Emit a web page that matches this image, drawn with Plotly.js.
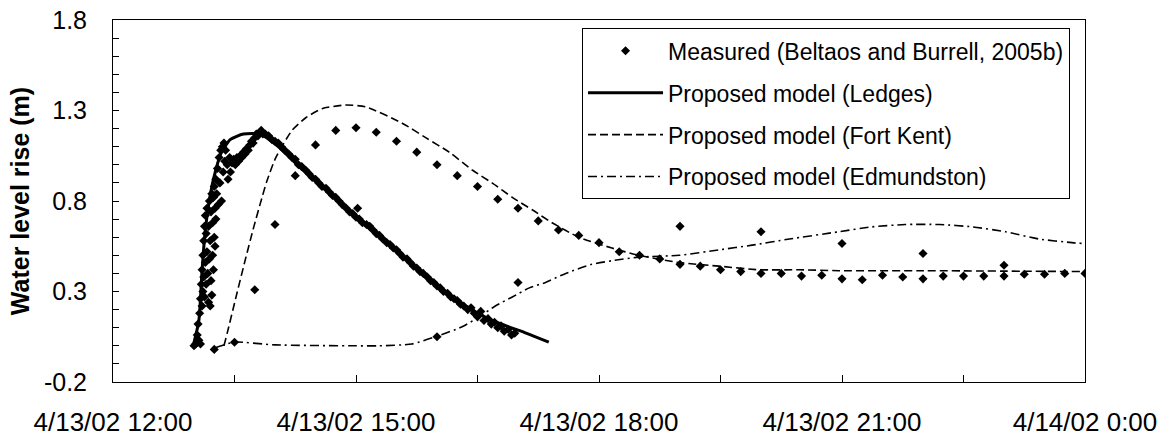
<!DOCTYPE html>
<html>
<head>
<meta charset="utf-8">
<script src="https://cdn.plot.ly/plotly-3.0.1.min.js"></script>
<style>
  html, body { margin: 0; padding: 0; background: #fff; }
  #chart { width: 1166px; height: 439px; }
</style>
</head>
<body>
<div id="chart"></div>
<script>
// Times are hours after 4/13/02 12:00; values are water level rise in metres.

// Measured, Ledges (logger record)
const measLedgesHours = [
  1.00,1.02,1.04,1.05,1.06,1.07,1.08,1.08,1.09,1.10,1.10,1.11,1.11,1.12,1.12,1.13,1.13,1.14,1.14,1.15,
  1.15,1.16,1.16,1.17,1.18,1.18,1.19,1.19,1.20,1.20,1.21,1.21,1.22,1.22,1.23,1.23,1.24,1.24,1.25,1.25,
  1.26,1.26,1.27,1.27,1.28,1.29,1.30,1.31,1.32,1.33,1.34,1.35,1.36,1.37,1.38,1.39,1.41,1.42,1.44,1.45,
  1.47,1.49,1.51,1.53,1.55,1.57,1.59,1.61,1.63,1.65,1.67,1.69,1.71,1.73,1.75,1.77,1.79,1.81,1.83,1.85,
  1.88,1.92,1.96,2.00,2.04,2.08,2.12,2.17,2.21,2.25,2.29,2.33,2.38,2.42,2.46,2.50,2.54,2.58,2.63,2.67,
  2.71,2.75,2.79,2.83,2.88,2.92,2.96,3.00,3.02,3.04,3.08,3.13,3.17,3.21,3.25,3.29,3.33,3.38,3.42,3.46,
  3.50,3.54,3.58,3.63,3.67,3.71,3.75,3.79,3.83,3.88,3.92,3.96,4.00,4.04,4.08,4.13,4.17,4.21,4.25,4.29,
  4.33,4.38,4.42,4.46,4.50,4.54,4.58,4.63,4.67,4.71,4.75,4.79,4.83,4.88,4.92,4.96
];
const measLedgesRise = [
  0.00,0.01,0.06,0.12,0.03,0.18,0.01,0.26,0.34,0.42,0.22,0.50,0.30,0.58,0.38,0.66,0.27,0.46,0.72,0.34,
  0.62,0.76,0.52,0.40,0.24,0.66,0.48,0.80,0.22,0.58,0.36,0.74,0.28,0.84,0.50,0.68,0.42,0.82,0.60,0.88,
  0.55,0.76,0.70,0.92,0.84,0.98,0.78,1.04,0.90,1.08,0.80,1.10,0.96,1.12,1.02,1.08,1.00,0.92,1.04,0.96,
  1.01,1.03,1.00,1.04,1.02,1.05,1.04,1.07,1.06,1.09,1.08,1.11,1.13,1.12,1.15,1.17,1.16,1.18,1.19,1.17,
  1.17,1.16,1.14,1.13,1.12,1.10,1.08,1.06,1.04,1.03,1.00,0.99,0.97,0.95,0.93,0.92,0.90,0.88,0.87,0.85,
  0.83,0.82,0.80,0.78,0.76,0.74,0.73,0.71,0.76,0.70,0.68,0.67,0.66,0.64,0.62,0.61,0.59,0.57,0.56,0.54,
  0.53,0.51,0.49,0.48,0.46,0.44,0.43,0.41,0.40,0.38,0.36,0.35,0.33,0.32,0.30,0.29,0.27,0.26,0.25,0.23,
  0.22,0.20,0.21,0.18,0.16,0.19,0.14,0.15,0.12,0.13,0.10,0.11,0.08,0.09,0.06,0.07
];

// Measured, Fort Kent (15-minute readings)
const measFortKentHours = [
  1.25,1.50,1.75,2.00,2.25,2.50,2.75,3.00,3.25,3.50,3.75,4.00,4.25,4.50,4.75,5.00,5.25,5.50,5.75,6.00,
  6.25,6.50,6.75,7.00,7.25,7.50,7.75,8.00,8.25,8.50,8.75,9.00,9.25,9.50,9.75,10.00,10.25,10.50,10.75,11.00,
  11.25,11.50,11.75,12.00
];
const measFortKentRise = [
  -0.02,0.02,0.31,0.67,0.94,1.11,1.19,1.205,1.18,1.13,1.07,1.00,0.94,0.88,0.81,0.76,0.69,0.64,0.61,0.57,
  0.52,0.50,0.48,0.45,0.44,0.42,0.41,0.40,0.40,0.385,0.39,0.37,0.365,0.39,0.38,0.37,0.385,0.385,0.385,0.385,
  0.395,0.395,0.40,0.40
];

// Measured, Edmundston (hourly readings)
const measEdmundstonHours = [4.00,5.00,7.00,8.00,9.00,10.00,11.00];
const measEdmundstonRise  = [0.05,0.35,0.66,0.63,0.565,0.51,0.445];

// Proposed model, Ledges
const modelLedgesHours = [0.99,1.06,1.10,1.14,1.22,1.33,1.45,1.61,1.82,2.04,2.30,2.63,3.04,3.45,3.86,4.27,4.68,5.10,5.38];
const modelLedgesRise  = [0.00,0.14,0.42,0.64,0.88,1.06,1.14,1.17,1.17,1.10,0.99,0.86,0.69,0.55,0.38,0.24,0.14,0.07,0.02];

// Proposed model, Fort Kent
const modelFortKentHours = [1.37,1.41,1.53,1.63,1.74,1.84,1.90,2.01,2.21,2.38,2.58,2.87,3.12,3.57,3.86,4.15,4.44,4.68,4.93,5.18,
  5.42,5.75,6.16,6.49,6.99,7.48,7.98,8.47,8.96,10.00,12.00];
const modelFortKentRise  = [0.00,0.07,0.29,0.47,0.66,0.82,0.91,1.04,1.19,1.26,1.31,1.33,1.32,1.23,1.15,1.07,0.97,0.90,0.82,0.75,
  0.68,0.60,0.54,0.50,0.46,0.44,0.42,0.42,0.415,0.415,0.41];

// Proposed model, Edmundston
const modelEdmundstonHours = [1.27,1.50,2.00,3.00,3.28,3.69,3.98,4.31,4.52,4.72,4.93,5.14,5.34,5.59,5.91,6.16,6.49,6.99,7.48,7.89,
  8.35,8.96,9.37,9.78,10.20,10.61,11.02,11.43,11.84,11.98];
const modelEdmundstonRise  = [-0.01,0.02,0.005,0.00,0.00,0.01,0.05,0.105,0.16,0.22,0.27,0.32,0.35,0.40,0.45,0.47,0.49,0.50,0.53,0.556,
  0.59,0.63,0.657,0.67,0.67,0.657,0.63,0.59,0.57,0.565];

// Axis ticks
const xTickHours = [0,1.5,3,4.5,6,7.5,9,10.5,12];
const xTickText  = ['4/13/02 12:00','','4/13/02 15:00','','4/13/02 18:00','','4/13/02 21:00','','4/14/02 0:00'];
const yTickVals  = [-0.2,0.3,0.8,1.3,1.8];
const yTickText  = ['-0.2','0.3','0.8','1.3','1.8'];

const START = Date.UTC(2002, 3, 13, 12, 0, 0);
function toDate(h) {
  return new Date(START + Math.round(h * 3600000)).toISOString().replace('T', ' ').slice(0, 19);
}

const font = 'Liberation Sans, Arial, sans-serif';
const diamond = { symbol: 'diamond', size: 7, color: '#000' };

const traces = [
  { type: 'scatter', mode: 'lines', name: 'Proposed model (Ledges)', legendgroup: 'b', legendrank: 2,
    x: modelLedgesHours.map(toDate), y: modelLedgesRise,
    line: { color: '#000', width: 3, shape: 'spline', smoothing: 0.6 } },
  { type: 'scatter', mode: 'lines', name: 'Proposed model (Fort Kent)', legendgroup: 'c', legendrank: 3,
    x: modelFortKentHours.map(toDate), y: modelFortKentRise,
    line: { color: '#000', width: 1.6, dash: '8px,4px', shape: 'spline', smoothing: 0.6 } },
  { type: 'scatter', mode: 'lines', name: 'Proposed model (Edmundston)', legendgroup: 'd', legendrank: 4,
    x: modelEdmundstonHours.map(toDate), y: modelEdmundstonRise,
    line: { color: '#000', width: 1.6, dash: '9px,4px,2px,4px', shape: 'spline', smoothing: 0.6 } },
  { type: 'scatter', mode: 'markers', name: 'Measured (Beltaos and Burrell, 2005b)', legendgroup: 'a', legendrank: 1,
    x: measLedgesHours.map(toDate), y: measLedgesRise, marker: diamond },
  { type: 'scatter', mode: 'markers', name: 'Measured (Fort Kent)', legendgroup: 'a', showlegend: false,
    x: measFortKentHours.map(toDate), y: measFortKentRise, marker: diamond },
  { type: 'scatter', mode: 'markers', name: 'Measured (Edmundston)', legendgroup: 'a', showlegend: false,
    x: measEdmundstonHours.map(toDate), y: measEdmundstonRise, marker: diamond }
];

const layout = {
  width: 1166, height: 439,
  margin: { l: 113, r: 81, t: 20, b: 57 },
  paper_bgcolor: '#fff', plot_bgcolor: '#fff',
  font: { family: font, color: '#000', size: 22 },
  showlegend: true,
  legend: {
    x: 0.9846, xanchor: 'right', y: 0.977, yanchor: 'top',
    bgcolor: '#fff', bordercolor: '#000', borderwidth: 1,
    font: { family: font, size: 23, color: '#000' },
    traceorder: 'grouped', tracegroupgap: 9, itemwidth: 75
  },
  xaxis: {
    type: 'date',
    range: [toDate(0), toDate(12)],
    tickmode: 'array', tickvals: xTickHours.map(toDate), ticktext: xTickText,
    ticks: 'inside', ticklen: 7, tickcolor: '#000', tickwidth: 1,
    showline: true, mirror: true, linecolor: '#000', linewidth: 1,
    showgrid: false, zeroline: false,
    tickfont: { family: font, size: 26 },
    ticklabelstandoff: 17
  },
  yaxis: {
    range: [-0.2, 1.8],
    tickmode: 'array', tickvals: yTickVals, ticktext: yTickText,
    ticks: 'inside', ticklen: 6, tickcolor: '#000', tickwidth: 1,
    minor: { tickmode: 'linear', tick0: -0.2, dtick: 0.1, ticks: 'inside', ticklen: 6, tickcolor: '#000', showgrid: false },
    showline: true, mirror: true, linecolor: '#000', linewidth: 1,
    showgrid: false, zeroline: false,
    tickfont: { family: font, size: 25 },
    ticklabelstandoff: 20,
    title: { text: '<b>Water level rise (m)</b>', font: { family: font, size: 25 }, standoff: 7 }
  }
};

Plotly.newPlot('chart', traces, layout, { staticPlot: true, displayModeBar: false });
</script>
</body>
</html>
